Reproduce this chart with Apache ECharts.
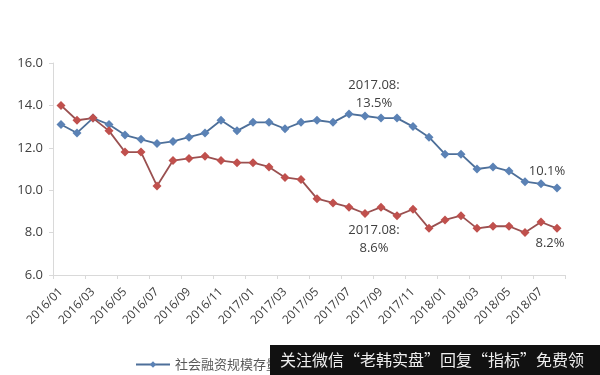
<!DOCTYPE html>
<html><head><meta charset="utf-8">
<script src="https://cdn.jsdelivr.net/npm/echarts@6/dist/echarts.min.js"></script>
<style>html,body{margin:0;padding:0;background:#fff}#c{width:600px;height:375px}</style>
</head><body><div id="c"></div>
<script>
const categories = ['2016/01','2016/02','2016/03','2016/04','2016/05','2016/06','2016/07','2016/08','2016/09','2016/10','2016/11','2016/12',
'2017/01','2017/02','2017/03','2017/04','2017/05','2017/06','2017/07','2017/08','2017/09','2017/10','2017/11','2017/12',
'2018/01','2018/02','2018/03','2018/04','2018/05','2018/06','2018/07','2018/08'];
const tsfValues = [13.1,12.7,13.4,13.1,12.6,12.4,12.2,12.3,12.5,12.7,13.3,12.8,
13.2,13.2,12.9,13.2,13.3,13.2,13.6,13.5,13.4,13.4,13.0,12.5,
11.7,11.7,11.0,11.1,10.9,10.4,10.3,10.1];
const m2Values = [14.0,13.3,13.4,12.8,11.8,11.8,10.2,11.4,11.5,11.6,11.4,11.3,
11.3,11.1,10.6,10.5,9.6,9.4,9.2,8.9,9.2,8.8,9.1,8.2,
8.6,8.8,8.2,8.3,8.3,8.0,8.5,8.2];
const seriesNames = ['社会融资规模存量同比增速','M2同比增速'];
const yTicks = {min: 6, max: 16, interval: 2};
const notes = [
  {series: 0, index: 19, text: '2017.08:\n13.5%'},
  {series: 0, index: 31, text: '10.1%'},
  {series: 1, index: 19, text: '2017.08:\n8.6%'},
  {series: 1, index: 31, text: '8.2%'}
];
const watermark = '关注微信“老韩实盘”回复“指标”免费领';

const labelStyles = [
  {position: 'top', distance: 6, offset: [9, 7]},
  {position: 'top', distance: 4, offset: [-10, 1]},
  {position: 'bottom', distance: 6, offset: [9, -3]},
  {position: 'bottom', distance: 4, offset: [-7, -3]}
];
function build(values, sIdx) {
  return values.map((v, i) => {
    const nIdx = notes.findIndex(n => n.series === sIdx && n.index === i);
    if (nIdx < 0) return v;
    return {value: v, label: Object.assign({show: true, formatter: notes[nIdx].text,
      color: '#404040', fontSize: 13, lineHeight: 18, fontFamily: 'Open Sans, sans-serif'}, labelStyles[nIdx])};
  });
}
const chart = echarts.init(document.getElementById('c'), null, {renderer: 'canvas'});
chart.setOption({
  animation: false,
  backgroundColor: '#fff',
  grid: {left: 53, right: 35, top: 63, bottom: 100},
  xAxis: {
    type: 'category', data: categories, boundaryGap: true,
    axisLine: {lineStyle: {color: '#d9d9d9'}},
    axisTick: {show: true, interval: 1, length: 4, lineStyle: {color: '#d9d9d9'}},
    axisLabel: {interval: 1, rotate: 45, color: '#404040', fontSize: 12, margin: 15, fontFamily: 'Open Sans, sans-serif'}
  },
  yAxis: {
    type: 'value', min: yTicks.min, max: yTicks.max, interval: yTicks.interval,
    axisLine: {show: true, lineStyle: {color: '#d9d9d9'}},
    axisTick: {show: true, length: 4, lineStyle: {color: '#d9d9d9'}},
    splitLine: {show: false},
    axisLabel: {color: '#404040', fontSize: 13, margin: 10, formatter: v => v.toFixed(1), fontFamily: 'Open Sans, sans-serif'}
  },
  legend: {
    data: seriesNames, left: 130, top: 353, itemWidth: 34, itemHeight: 8, itemGap: 20,
    textStyle: {color: '#595959', fontSize: 13, fontFamily: 'Noto Sans CJK SC'}
  },
  series: [
    {name: seriesNames[0], type: 'line', data: build(tsfValues, 0), symbol: 'diamond', symbolSize: 9,
     itemStyle: {color: '#5b82b5'}, lineStyle: {color: '#4d6f99', width: 1.8}},
    {name: seriesNames[1], type: 'line', data: build(m2Values, 1), symbol: 'diamond', symbolSize: 9,
     itemStyle: {color: '#c0504d'}, lineStyle: {color: '#9a5050', width: 1.8}}
  ],
  graphic: [
    {type: 'rect', left: 270, top: 345, shape: {width: 330, height: 30}, style: {fill: '#111'}, z: 100},
    {type: 'text', left: 280, top: 352, style: {text: watermark, fill: '#eeeeee', font: '16px "Noto Sans CJK SC"'}, z: 101}
  ]
});
</script></body></html>
